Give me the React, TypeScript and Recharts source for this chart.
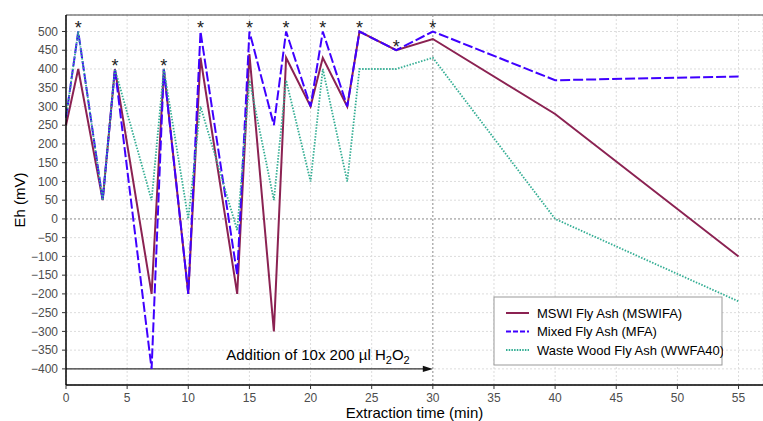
import React from 'react';
import {
  ComposedChart,
  Line,
  XAxis,
  YAxis,
  CartesianGrid,
  ReferenceLine,
  Label,
} from 'recharts';

// ---- data ----
const time = [0, 1, 3, 4, 7, 8, 10, 11, 14, 15, 17, 18, 20, 21, 23, 24, 27, 30, 40, 55];
const mswifa = [250, 400, 50, 400, -200, 400, -200, 430, -200, 440, -300, 430, 300, 430, 300, 500, 450, 480, 280, -100];
const mfa = [270, 500, 50, 400, -400, 400, -200, 500, -150, 500, 250, 500, 300, 500, 300, 500, 450, 500, 370, 380];
const wwfa40 = [270, 500, 50, 400, 50, 400, 0, 300, -30, 370, 50, 370, 100, 400, 100, 400, 400, 430, 0, -220];
const starTimes = [1, 4, 8, 11, 15, 18, 21, 24, 27, 30];
const xTicks = [0, 5, 10, 15, 20, 25, 30, 35, 40, 45, 50, 55];
const yTicks = [-400, -350, -300, -250, -200, -150, -100, -50, 0, 50, 100, 150, 200, 250, 300, 350, 400, 450, 500];
const seriesNames = ['MSWI Fly Ash (MSWIFA)', 'Mixed Fly Ash (MFA)', 'Waste Wood Fly Ash (WWFA40)'];
const additionStart = 0;
const additionEnd = 30;
const additionLevel = -400;
const additionLabelStart = 13.1;

const rows = time.map((t, i) => ({
  time: t,
  mswifa: mswifa[i],
  mfa: mfa[i],
  wwfa: wwfa40[i],
  star: starTimes.includes(t) ? Math.max(mswifa[i], mfa[i], wwfa40[i]) : null,
}));

const FONT = '"Liberation Sans", Arial, Helvetica, sans-serif';
const C_MSW = '#8B2252';
const C_MFA = '#3F00FF';
const C_WW = '#34AE94';

const fmt = (v: number) => (v < 0 ? '\u2212' + Math.abs(v) : String(v));

const StarDot = (p: any) => {
  if (p.value == null || p.cy == null || isNaN(p.cy)) return <g key={p.key} />;
  return (
    <text
      key={p.key}
      x={p.cx}
      y={p.cy + 3}
      textAnchor="middle"
      fontSize={18}
      fontFamily={FONT}
      fill="#222"
    >
      *
    </text>
  );
};

const ArrowShape = (props: any) => {
  const { x1, y1, x2 } = props;
  const tx = x1 + ((x2 - x1) * (additionLabelStart - additionStart)) / (additionEnd - additionStart);
  return (
    <g>
      <line x1={x1} y1={y1} x2={x2 - 8} y2={y1} stroke="#333" strokeWidth={1.2} />
      <polygon points={`${x2},${y1} ${x2 - 10},${y1 - 3.2} ${x2 - 10},${y1 + 3.2}`} fill="#111" />
      <text x={tx} y={y1 - 9} fontSize={15} fontFamily={FONT} fill="#000">
        Addition of 10x 200 µl H
        <tspan dy={4} fontSize={11}>2</tspan>
        <tspan dy={-4} fontSize={15}>O</tspan>
        <tspan dy={4} fontSize={11}>2</tspan>
      </text>
    </g>
  );
};

const XTitle = (p: any) => {
  const vb = p.viewBox || { x: 66, y: 385, width: 697, height: 36 };
  return (
    <text x={vb.x + vb.width / 2} y={418} textAnchor="middle" fontSize={15} fontFamily={FONT} fill="#000">
      Extraction time (min)
    </text>
  );
};

const YTitle = (p: any) => {
  const vb = p.viewBox || { x: 0, y: 15, width: 66, height: 370 };
  const cy = vb.y + vb.height / 2;
  return (
    <text transform={`translate(25,${cy}) rotate(-90)`} textAnchor="middle" fontSize={15} fontFamily={FONT} fill="#000">
      Eh (mV)
    </text>
  );
};

const LegendBox = () => {
  const items = [
    { name: seriesNames[0], color: C_MSW, dash: undefined, w: 2 },
    { name: seriesNames[1], color: C_MFA, dash: '5 2', w: 2 },
    { name: seriesNames[2], color: C_WW, dash: '1.5 1.2', w: 1.8 },
  ];
  return (
    <svg
      width={230}
      height={70}
      style={{ position: 'absolute', left: 493, top: 296 }}
    >
      <rect x={1} y={1} width={228} height={68} fill="#fff" stroke="#999" strokeWidth={1} />
      {items.map((it, i) => (
        <g key={i}>
          <line
            x1={13}
            x2={36}
            y1={17 + i * 18.5}
            y2={17 + i * 18.5}
            stroke={it.color}
            strokeWidth={it.w}
            strokeDasharray={it.dash}
          />
          <text x={44} y={17 + i * 18.5 + 4.5} fontSize={13} fontFamily={FONT} fill="#000">
            {it.name}
          </text>
        </g>
      ))}
    </svg>
  );
};

export default function App() {
  return (
    <div style={{ position: 'absolute', left: 0, top: 0, width: 763, height: 421, background: '#fff' }}>
      <ComposedChart
        width={763}
        height={421}
        data={rows}
        margin={{ top: 15, right: 0, bottom: 0, left: 0 }}
      >
        <CartesianGrid stroke="#DCDCDC" strokeDasharray="2 2" />
        <XAxis
          dataKey="time"
          type="number"
          domain={[0, 57]}
          ticks={xTicks}
          interval={0}
          height={36}
          axisLine={{ stroke: '#000', strokeWidth: 1.5 }}
          tickLine={{ stroke: '#333' }}
          tickSize={4}
          tickMargin={4}
          tick={{ fill: '#4D4D4D', fontSize: 12, fontFamily: FONT }}
        >
          <Label content={XTitle} />
        </XAxis>
        <YAxis
          type="number"
          domain={[-443, 544]}
          ticks={yTicks}
          interval={0}
          width={66}
          tickFormatter={fmt}
          axisLine={{ stroke: '#000', strokeWidth: 1.5 }}
          tickLine={{ stroke: '#333' }}
          tickSize={4}
          tickMargin={4}
          tick={{ fill: '#4D4D4D', fontSize: 12, fontFamily: FONT }}
        >
          <Label content={YTitle} />
        </YAxis>
        <ReferenceLine y={544} stroke="#444" strokeWidth={1} />
        <ReferenceLine y={0} stroke="#9A9A9A" strokeDasharray="2 2" strokeWidth={1} />
        <ReferenceLine x={30} stroke="#9A9A9A" strokeDasharray="2 2" strokeWidth={1} />
        <ReferenceLine
          segment={[
            { x: additionStart, y: additionLevel },
            { x: additionEnd, y: additionLevel },
          ]}
          shape={ArrowShape}
        />
        <Line
          type="linear"
          dataKey="mswifa"
          name={seriesNames[0]}
          stroke={C_MSW}
          strokeWidth={2}
          dot={false}
          isAnimationActive={false}
        />
        <Line
          type="linear"
          dataKey="mfa"
          name={seriesNames[1]}
          stroke={C_MFA}
          strokeWidth={2}
          strokeDasharray="10 3"
          dot={false}
          isAnimationActive={false}
        />
        <Line
          type="linear"
          dataKey="wwfa"
          name={seriesNames[2]}
          stroke={C_WW}
          strokeWidth={1.8}
          strokeDasharray="1.5 1.5"
          dot={false}
          isAnimationActive={false}
        />
        <Line
          type="linear"
          dataKey="star"
          stroke="none"
          dot={StarDot}
          activeDot={false}
          legendType="none"
          isAnimationActive={false}
        />
      </ComposedChart>
      <LegendBox />
    </div>
  );
}
